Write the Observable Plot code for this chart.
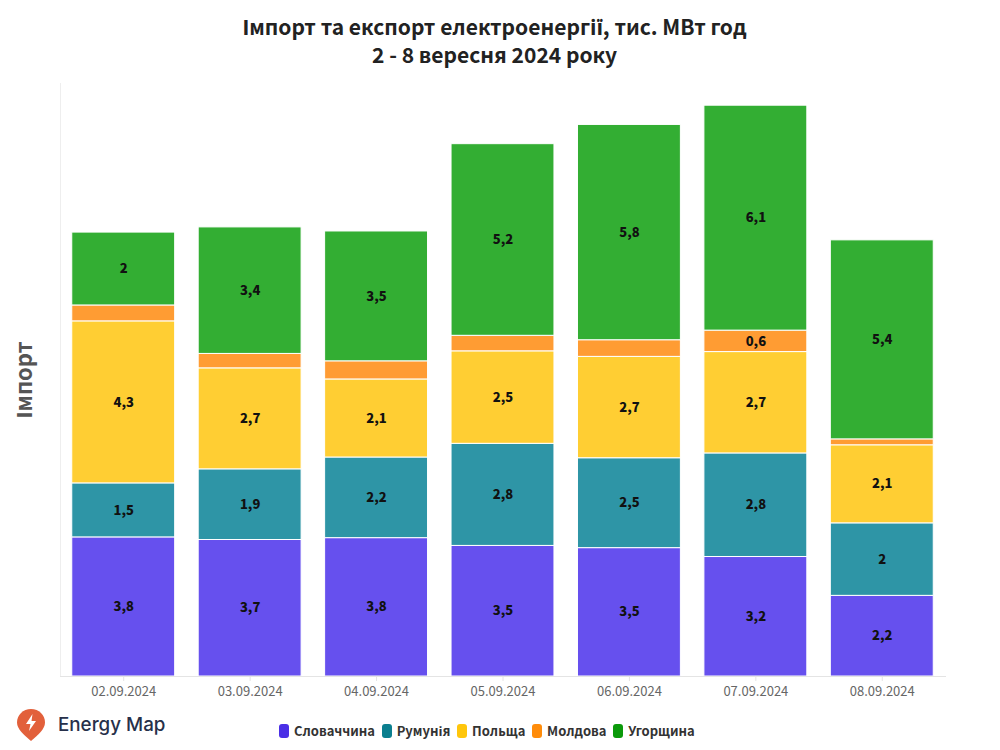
<!DOCTYPE html>
<html><head><meta charset="utf-8">
<script src="https://cdn.jsdelivr.net/npm/d3@7"></script>
<script src="https://cdn.jsdelivr.net/npm/@observablehq/plot@0.6"></script>
<style>
html,body{margin:0;padding:0;background:#fff;width:1000px;height:750px;overflow:hidden}
body{font-family:"Noto Sans CJK SC","Noto Sans",sans-serif;position:relative}
#title{height:75px;width:989px;box-sizing:border-box;padding-top:12px;text-align:center;font-size:21px;font-weight:700;line-height:28px;color:#222}
#chart svg{display:block}
#legend{position:absolute;left:279px;top:722px;display:flex;align-items:center;font-size:13px;font-weight:700;color:#333;line-height:18px}
#legend span.i{display:flex;align-items:center;margin-right:6.700px}
#legend span.s{display:inline-block;width:10px;height:14px;border-radius:3px;margin-right:5px}
#logo{position:absolute;left:16px;top:708px;display:flex;align-items:center}
#logo b{font-family:Inter,sans-serif;font-weight:500;font-size:18.800px;color:#27304a;margin-left:12px;margin-top:-1px}
</style></head><body>
<div id="title">Імпорт та експорт електроенергії, тис. МВт год<br>2 - 8 вересня 2024 року</div>
<div id="chart"></div>
<div id="logo"><svg width="30" height="33" viewBox="0 0 30 33"><path d="M15 1C7 1 1 7 1 14.500C1 21 8 27 15 33C22 27 29 21 29 14.500C29 7 23 1 15 1Z" fill="#e2603b"/><path d="M16.500 6L10 16H14.500L13 23L20 13H15.500Z" fill="#fff"/></svg><b>Energy Map</b></div>
<div id="legend"></div>
<script>
const dates = ["02.09.2024","03.09.2024","04.09.2024","05.09.2024","06.09.2024","07.09.2024","08.09.2024"];
const seriesNames = ["Словаччина","Румунія","Польща","Молдова","Угорщина"];
const slovakia = [3.76,3.69,3.74,3.53,3.47,3.23,2.18];
const romania  = [1.46,1.91,2.18,2.76,2.43,2.80,1.96];
const poland   = [4.38,2.73,2.11,2.50,2.74,2.74,2.11];
const moldova  = [0.43,0.39,0.49,0.42,0.45,0.58,0.16];
const hungary  = [1.97,3.42,3.51,5.18,5.82,6.08,5.38];
const slovakiaLabels = ["3,8","3,7","3,8","3,5","3,5","3,2","2,2"];
const romaniaLabels  = ["1,5","1,9","2,2","2,8","2,5","2,8","2"];
const polandLabels   = ["4,3","2,7","2,1","2,5","2,7","2,7","2,1"];
const moldovaLabels  = ["","","","","","0,6",""];
const hungaryLabels  = ["2","3,4","3,5","5,2","5,8","6,1","5,4"];
const barColors = ["#6650EE","#2E95A6","#FFCE33","#FF9C33","#33AE33"];
const legendColors = ["#4A2FE6","#0B7F8F","#FFC60B","#FF8C0A","#0B9A0B"];

const values = [slovakia,romania,poland,moldova,hungary];
const labels = [slovakiaLabels,romaniaLabels,polandLabels,moldovaLabels,hungaryLabels];
const rows = seriesNames.flatMap((s,i)=>dates.map((d,j)=>({date:d,series:s,value:values[i][j],label:labels[i][j]})));

const plot = Plot.plot({
  width:1000,height:630,marginTop:8,marginBottom:29,marginLeft:60,marginRight:55,
  style:{fontFamily:'"Noto Sans CJK SC","Noto Sans",sans-serif',background:"#fff"},
  x:{domain:dates,paddingInner:0.186,paddingOuter:0.093,round:false,label:null,axis:null},
  y:{domain:[0,16.03],axis:null},
  color:{domain:seriesNames,range:barColors},
  marks:[
    Plot.frame({anchor:"left",stroke:"#eeeeee"}),
    Plot.barY(rows,{x:"date",y:"value",fill:"series",stroke:"#fff",strokeWidth:1}),
    Plot.text(rows,Plot.stackY({x:"date",y:"value",text:"label",fill:"#111",fontWeight:900,fontSize:13})),
    Plot.frame({anchor:"bottom",stroke:"#e4e4e4"}),
    Plot.axisX({anchor:"bottom",tickSize:5,stroke:"#e4e4e4",color:"#666",fontSize:13,tickPadding:5,label:null,textStroke:"none"}),
    Plot.text(["Імпорт"],{frameAnchor:"left",textAnchor:"middle",dx:-36,rotate:-90,fontSize:22,fontWeight:700,fill:"#555"})
  ]
});
document.getElementById("chart").append(plot);
const lg=document.getElementById("legend");
seriesNames.forEach((s,i)=>{
  const it=document.createElement("span");it.className="i";
  const sw=document.createElement("span");sw.className="s";sw.style.background=legendColors[i];
  it.append(sw,document.createTextNode(s));lg.append(it);
});
</script>
</body></html>
